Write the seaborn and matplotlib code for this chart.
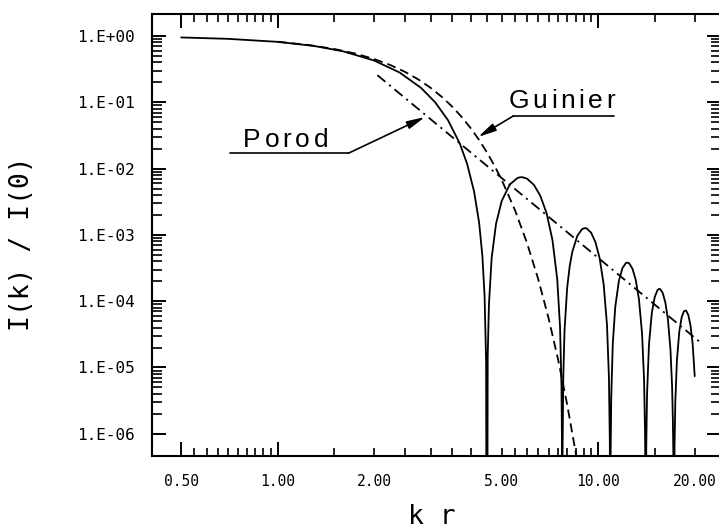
import math
import matplotlib
matplotlib.use("Agg")
import matplotlib.pyplot as plt
import matplotlib.ticker as mticker
from matplotlib.lines import Line2D
import pandas as pd
import seaborn as sns

# ---------------- data ----------------
SPHERE_KR = [0.5, 0.7, 1.0, 1.3, 1.6, 2.0, 2.4, 2.8, 3.1, 3.4, 3.7, 3.9, 4.1, 4.25, 4.35, 4.42, 4.47, 4.4934,
             4.52, 4.56, 4.65, 4.8, 5.0, 5.3, 5.6, 5.7, 5.8, 6.0, 6.3, 6.6, 6.9, 7.2, 7.45, 7.6, 7.68, 7.71, 7.7253,
             7.74, 7.78, 7.85, 8.0, 8.15, 8.3, 8.6, 8.9, 9.05, 9.2, 9.5, 9.8, 10.1, 10.4, 10.65, 10.8, 10.87, 10.9041,
             10.93, 10.98, 11.1, 11.3, 11.6, 11.9, 12.2, 12.35, 12.5, 12.8, 13.1, 13.4, 13.7, 13.9, 14.0, 14.04, 14.0662,
             14.12, 14.2, 14.4, 14.7, 15.0, 15.3, 15.45, 15.6, 15.9, 16.2, 16.5, 16.8, 17.0, 17.1, 17.15, 17.2208,
             17.3, 17.4, 17.6, 17.9, 18.2, 18.5, 18.8, 19.1, 19.4, 19.7, 20.0]
SPHERE_I = [0.95109, 0.90603, 0.81633, 0.70709, 0.58726, 0.42654, 0.28158, 0.16510, 0.099915, 0.053545, 0.023861,
            0.011751, 4.4847e-3, 1.5299e-3, 4.8956e-4, 1.2088e-4, 1.1769e-5, 1e-12,
            1.4524e-5, 8.7827e-5, 4.4643e-4, 1.4758e-3, 3.2552e-3, 5.7725e-3, 7.2211e-3, 7.3951e-3, 7.4156e-3,
            7.0383e-3, 5.6811e-3, 3.8678e-3, 2.1269e-3, 8.3095e-4, 2.1244e-4, 4.1414e-5, 5.26e-6, 5.92e-7, 1e-12,
            5.31e-7, 7.14e-6, 3.6094e-5, 1.5919e-4, 3.4137e-4, 5.5313e-4, 9.6064e-4, 1.2187e-3, 1.2651e-3, 1.2540e-3,
            1.0814e-3, 7.7815e-4, 4.4672e-4, 1.7828e-4, 4.3861e-5, 7.05e-6, 7.33e-7, 1e-12,
            4.18e-7, 3.53e-6, 2.2275e-5, 8.1467e-5, 2.0310e-4, 3.1517e-4, 3.7675e-4, 3.8230e-4, 3.7094e-4, 3.0562e-4,
            2.0656e-4, 1.0625e-4, 3.2605e-5, 6.5654e-6, 1.0198e-6, 1.57e-7, 1e-12,
            6.47e-7, 3.9201e-6, 2.2365e-5, 6.7347e-5, 1.1464e-4, 1.4632e-4, 1.5276e-4, 1.5229e-4, 1.3239e-4,
            9.4903e-5, 5.2773e-5, 1.8793e-5, 5.1498e-6, 1.5223e-6, 5.23e-7, 1e-12,
            6.27e-7, 3.1106e-6, 1.2817e-5, 3.4516e-5, 5.6453e-5, 7.0521e-5, 7.2250e-5, 6.1783e-5, 4.3281e-5,
            2.3081e-5, 7.389e-6]

GUINIER_KR = [1.0, 1.25, 1.5, 1.75, 2.0, 2.25, 2.5, 2.75, 3.0, 3.25, 3.5, 3.75, 4.0, 4.25, 4.5, 4.75,
              5.0, 5.5, 6.0, 6.5, 7.0, 7.5, 8.0, 8.5, 9.0]
GUINIER_I = [0.818731, 0.731616, 0.637628, 0.541994, 0.449329, 0.363313, 0.286505, 0.220358, 0.165299,
             0.120928, 0.086294, 0.060055, 0.040762, 0.026979, 0.017422, 0.010970, 6.7379e-3, 2.3579e-3,
             7.4659e-4, 2.1390e-4, 5.5452e-5, 1.3007e-5, 2.7608e-6, 5.3022e-7, 9.2136e-8]

POROD_KR = [2.046, 3.0, 5.0, 10.0, 20.7]
POROD_I = [0.25680, 0.055556, 7.2e-3, 4.5e-4, 2.4509e-5]

X_LONG_TICKS = [0.5, 1.0, 10.0]
X_SHORT_TICKS = [0.55, 0.6, 0.65, 0.7, 0.75, 0.8, 0.85, 0.9, 0.95, 1.5,
                 2.0, 2.5, 3.0, 3.5, 4.0, 4.5, 5.0, 5.5, 6.0, 6.5, 7.0, 7.5, 8.0, 8.5, 9.0, 9.5,
                 15.0, 20.0]
X_TICK_VALUES = [0.5, 1.0, 2.0, 5.0, 10.0, 20.0]
X_TICK_LABELS = ["0.50", "1.00", "2.00", "5.00", "10.00", "20.00"]
Y_TICK_VALUES = [1e0, 1e-1, 1e-2, 1e-3, 1e-4, 1e-5, 1e-6]
Y_TICK_LABELS = ["1.E+00", "1.E-01", "1.E-02", "1.E-03", "1.E-04", "1.E-05", "1.E-06"]
Y_MINOR_TICKS = [m * 10.0 ** e for e in range(-6, 0) for m in range(2, 10)]
X_LABEL = "k r"
Y_LABEL = "I(k) / I(0)"
LABEL_POROD = "Porod"
LABEL_GUINIER = "Guinier"

# ---------------- figure ----------------
FIG_W, FIG_H = 719, 530
sns.set_theme(style="ticks")
plt.rcParams["font.family"] = ["DejaVu Sans Mono", "DejaVu Sans"]
plt.rcParams["lines.scale_dashes"] = False

fig = plt.figure(figsize=(FIG_W / 100, FIG_H / 100), dpi=100)
fig.patch.set_facecolor("white")
AX_L, AX_R, AX_T, AX_B = 151.7, 720.5, 14.0, 456.0
ax = fig.add_axes([AX_L / FIG_W, 1 - AX_B / FIG_H, (AX_R - AX_L) / FIG_W, (AX_B - AX_T) / FIG_H])
ax.set_facecolor("white")

df_s = pd.DataFrame({"kr": SPHERE_KR, "I": SPHERE_I})
df_g = pd.DataFrame({"kr": GUINIER_KR, "I": GUINIER_I})
df_p = pd.DataFrame({"kr": POROD_KR, "I": POROD_I})

sns.lineplot(data=df_s, x="kr", y="I", ax=ax, color="black", lw=1.3,
             estimator=None, sort=False, legend=False)
sns.lineplot(data=df_g, x="kr", y="I", ax=ax, color="black", lw=1.3,
             estimator=None, sort=False, legend=False, linestyle=(0, (6.5, 3.6)))
sns.lineplot(data=df_p, x="kr", y="I", ax=ax, color="black", lw=1.3,
             estimator=None, sort=False, legend=False, linestyle=(0, (7.5, 3.5, 1.5, 3.5)))

ax.set_xscale("log")
ax.set_yscale("log")
ax.set_xlim(0.4045, 24.07)
ax.set_ylim(4.62e-7, 2.147)

xlab = dict(zip([round(v, 2) for v in X_TICK_VALUES], X_TICK_LABELS))
ylab = dict(zip([round(math.log10(v)) for v in Y_TICK_VALUES], Y_TICK_LABELS))
xfmt = mticker.FuncFormatter(lambda v, pos: xlab.get(round(v, 2), ""))
ax.xaxis.set_major_locator(mticker.FixedLocator(X_LONG_TICKS))
ax.xaxis.set_minor_locator(mticker.FixedLocator(X_SHORT_TICKS))
ax.xaxis.set_major_formatter(xfmt)
ax.xaxis.set_minor_formatter(xfmt)
ax.yaxis.set_major_locator(mticker.FixedLocator(Y_TICK_VALUES))
ax.yaxis.set_minor_locator(mticker.FixedLocator(Y_MINOR_TICKS))
ax.yaxis.set_major_formatter(mticker.FuncFormatter(lambda v, pos: ylab.get(round(math.log10(v)), "")))
ax.yaxis.set_minor_formatter(mticker.NullFormatter())

ax.tick_params(axis="both", which="both", direction="in", top=True, right=True,
               color="black", labelcolor="black")
ax.tick_params(axis="x", which="major", length=10, width=1.4, pad=13, labelsize=10.5)
ax.tick_params(axis="x", which="minor", length=5.5, width=1.2, pad=13, labelsize=10.5)
ax.tick_params(axis="y", which="major", length=10, width=1.4, pad=12, labelsize=11.5)
ax.tick_params(axis="y", which="minor", length=7, width=1.2)
for sp in ax.spines.values():
    sp.set_visible(True)
    sp.set_color("black")
    sp.set_linewidth(1.5)

ax.set_xlabel(X_LABEL, fontsize=19, va="center", color="black")
ax.xaxis.set_label_coords((432 - AX_L) / (AX_R - AX_L), (AX_B - 516.5) / (AX_B - AX_T))
ax.set_ylabel(Y_LABEL, fontsize=19, va="center", color="black")
ax.yaxis.set_label_coords((22 - AX_L) / (AX_R - AX_L), (AX_B - 244) / (AX_B - AX_T))


def fx(px):
    return px / FIG_W


def fy(py):
    return 1 - py / FIG_H


def spaced_text(text, left_px, base_px, width_px, **kw):
    r = fig.canvas.get_renderer()
    widths = []
    for ch in text:
        t = fig.text(0, 0, ch, **kw)
        widths.append(t.get_window_extent(r).width)
        t.remove()
    gap = (width_px - sum(widths)) / (len(text) - 1)
    x = left_px
    for ch, w in zip(text, widths):
        fig.text(fx(x), fy(base_px), ch, ha="left", va="baseline", **kw)
        x += w + gap


lab_kw = dict(fontsize=19, family=["Liberation Sans", "DejaVu Sans"], color="black")
spaced_text(LABEL_POROD, 243.3, 146.7, 84.7, **lab_kw)
spaced_text(LABEL_GUINIER, 508.3, 108.0, 106.7, **lab_kw)

fig.add_artist(Line2D([fx(230), fx(348.3)], [fy(153.3), fy(153.3)], transform=fig.transFigure,
                      color="black", lw=1.2))
fig.add_artist(Line2D([fx(513.3), fx(614)], [fy(116), fy(116)], transform=fig.transFigure,
                      color="black", lw=1.2))

arrow = dict(arrowstyle="-|>,head_length=0.9,head_width=0.2", mutation_scale=12, lw=1.2,
             color="black", shrinkA=0, shrinkB=0)
ax.annotate("", xy=(2.88, 0.060), xycoords="data",
            xytext=(fx(348.3), fy(153.3)), textcoords="figure fraction", arrowprops=arrow)
ax.annotate("", xy=(4.22, 0.030), xycoords="data",
            xytext=(fx(513.3), fy(116)), textcoords="figure fraction", arrowprops=arrow)

fig.savefig("out.png", dpi=100, facecolor="white")
